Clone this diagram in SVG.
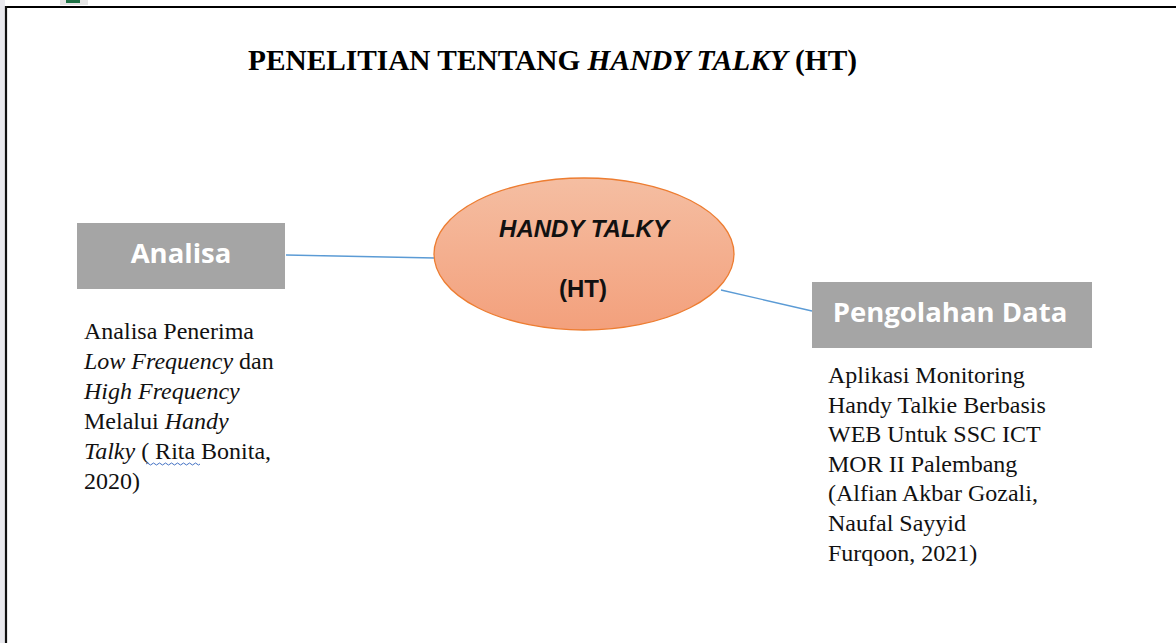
<svg xmlns="http://www.w3.org/2000/svg" width="1176" height="643" viewBox="0 0 1176 643">
  <defs>
    <linearGradient id="ovalFill" x1="0" y1="0" x2="0" y2="1">
      <stop offset="0" stop-color="#f5bea2"/>
      <stop offset="1" stop-color="#f3a07c"/>
    </linearGradient>
    <style>
      .title { font-family: "Liberation Serif", "Times New Roman", serif; font-weight: bold; font-size: 29px; fill: #000; }
      .box { fill: #a5a5a5; }
      .boxLabel { font-family: "Open Sans", "Liberation Sans", sans-serif; font-weight: bold; font-size: 27.5px; fill: #fff; text-anchor: middle; }
      .ovalLabel { font-family: "Liberation Sans", Arial, sans-serif; font-weight: bold; font-size: 24px; fill: #111; text-anchor: middle; }
      .body { font-family: "Liberation Serif", "Times New Roman", serif; font-size: 24px; fill: #111; }
      .link { stroke: #5b9bd5; stroke-width: 1.3; fill: none; }
    </style>
  </defs>

  <!-- page background and frame -->
  <rect x="0" y="0" width="1176" height="643" fill="#fff"/>
  <rect x="0" y="0" width="5" height="643" fill="#e9e9ee"/>
  <rect x="60" y="0" width="28" height="5" fill="#e4e4e4"/>
  <rect x="66" y="0" width="14" height="3" fill="#1e7145"/>
  <line x1="5" y1="7" x2="1176" y2="7" stroke="#000" stroke-width="2"/>
  <line x1="6" y1="6" x2="6" y2="643" stroke="#111" stroke-width="2.2"/>

  <!-- heading -->
  <text class="title" x="248" y="70" textLength="609" lengthAdjust="spacingAndGlyphs">PENELITIAN TENTANG <tspan font-style="italic">HANDY TALKY</tspan> (HT)</text>

  <!-- connectors -->
  <g id="connectors">
    <line class="link" x1="286" y1="255" x2="435" y2="258"/>
    <line class="link" x1="721" y1="290" x2="812" y2="311"/>
  </g>

  <!-- central topic -->
  <g id="node-ht">
    <ellipse cx="584" cy="254" rx="150" ry="76" fill="url(#ovalFill)" stroke="#ed7d31" stroke-width="1.3"/>
    <text class="ovalLabel" x="584" y="237" font-style="italic">HANDY TALKY</text>
    <text class="ovalLabel" x="583" y="297">(HT)</text>
  </g>

  <!-- left branch -->
  <g id="node-analisa">
    <rect class="box" x="77" y="223" width="208" height="66"/>
    <text class="boxLabel" x="181" y="263">Analisa</text>
  </g>
  <g id="text-analisa">
    <text class="body" x="84" y="339">Analisa Penerima</text>
    <text class="body" x="84" y="369"><tspan font-style="italic">Low Frequency</tspan> dan</text>
    <text class="body" x="84" y="399" font-style="italic">High Frequency</text>
    <text class="body" x="84" y="429">Melalui <tspan font-style="italic">Handy</tspan></text>
    <text class="body" x="84" y="459"><tspan font-style="italic">Talky</tspan> ( Rita Bonita,</text>
    <text class="body" x="84" y="489">2020)</text>
    <path d="M146 464 q1.5 -2 3 0 t3 0 t3 0 t3 0 t3 0 t3 0 t3 0 t3 0 t3 0 t3 0 t3 0 t3 0 t3 0 t3 0 t3 0 t3 0 t3 0 t3 0" fill="none" stroke="#4472c4" stroke-width="1"/>
  </g>

  <!-- right branch -->
  <g id="node-pengolahan">
    <rect class="box" x="812" y="282" width="280" height="66"/>
    <text class="boxLabel" x="950" y="322">Pengolahan Data</text>
  </g>
  <g id="text-pengolahan">
    <text class="body" x="828" y="383">Aplikasi Monitoring</text>
    <text class="body" x="828" y="413">Handy Talkie Berbasis</text>
    <text class="body" x="828" y="442">WEB Untuk SSC ICT</text>
    <text class="body" x="828" y="472">MOR II Palembang</text>
    <text class="body" x="828" y="501">(Alfian Akbar Gozali,</text>
    <text class="body" x="828" y="531">Naufal Sayyid</text>
    <text class="body" x="828" y="561">Furqoon, 2021)</text>
  </g>
</svg>
